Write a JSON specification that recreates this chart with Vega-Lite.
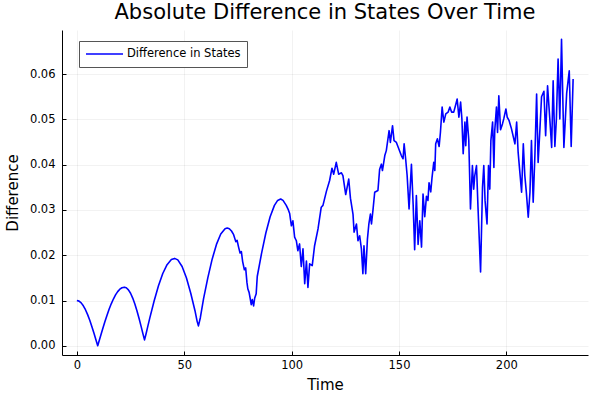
{
  "$schema": "https://vega.github.io/schema/vega-lite/v6.json",
  "width": 526,
  "height": 325,
  "autosize": "none",
  "padding": {"left": 62, "top": 30, "right": 12, "bottom": 45},
  "background": "white",
  "title": {"text": "Absolute Difference in States Over Time", "font": "DejaVu Sans", "fontSize": 21, "fontWeight": "normal", "color": "black", "anchor": "middle", "baseline": "alphabetic", "frame": "group", "offset": -10},
  "config": {"view": {"stroke": null}, "font": "DejaVu Sans"},
  "data": {"values": [
    {"t":0,"v":0.0100},{"t":1,"v":0.00987},{"t":2,"v":0.00948},{"t":3,"v":0.00884},{"t":4,"v":0.00797},{"t":5,"v":0.00689},{"t":6,"v":0.00564},{"t":7,"v":0.00423},{"t":8,"v":0.00271},{"t":9,"v":0.00113},{"t":9.7,"v":0.0},
    {"t":11,"v":0.00212},{"t":12,"v":0.00372},{"t":13,"v":0.00526},{"t":14,"v":0.00671},{"t":15,"v":0.00806},{"t":16,"v":0.00927},{"t":17,"v":0.01033},{"t":18,"v":0.01124},{"t":19,"v":0.01196},{"t":20,"v":0.0125},{"t":21,"v":0.01282},{"t":22.1,"v":0.01295},
    {"t":23,"v":0.01282},{"t":24,"v":0.01236},{"t":25,"v":0.0116},{"t":26,"v":0.01054},{"t":27,"v":0.00923},{"t":28,"v":0.00769},{"t":29,"v":0.00597},{"t":30,"v":0.00412},{"t":30.8,"v":0.00257},{"t":31.5,"v":0.0013},{"t":32.2,"v":0.00262},
    {"t":33,"v":0.00423},{"t":34,"v":0.00621},{"t":36,"v":0.00996},{"t":38,"v":0.01326},{"t":40,"v":0.01597},{"t":42,"v":0.01792},{"t":44,"v":0.01905},{"t":45.5,"v":0.0193},
    {"t":47,"v":0.01897},{"t":49,"v":0.01751},{"t":51,"v":0.01501},{"t":53,"v":0.01167},{"t":55,"v":0.00775},{"t":56,"v":0.0054},{"t":56.6,"v":0.0044},
    {"t":57.5,"v":0.0062},{"t":59,"v":0.0104},{"t":61,"v":0.01506},{"t":63,"v":0.01913},{"t":65,"v":0.02239},{"t":67,"v":0.02468},{"t":69,"v":0.02585},{"t":70,"v":0.026},
    {"t":71,"v":0.02584},{"t":72,"v":0.02535},{"t":73,"v":0.02454},{"t":74,"v":0.023},{"t":74.6,"v":0.0233},{"t":75.3,"v":0.0218},{"t":76,"v":0.0205},{"t":76.6,"v":0.0208},{"t":77.2,"v":0.0186},{"t":78,"v":0.0168},{"t":78.6,"v":0.0172},{"t":79.2,"v":0.014},{"t":79.6,"v":0.0126},{"t":80.2,"v":0.0118},{"t":80.7,"v":0.0105},{"t":81.2,"v":0.0091},{"t":81.7,"v":0.0102},{"t":82.3,"v":0.0088},{"t":82.8,"v":0.0105},{"t":83.5,"v":0.0115},
    {"t":84,"v":0.0153},{"t":86,"v":0.0204},{"t":88,"v":0.0249},{"t":90,"v":0.0285},{"t":92,"v":0.031},{"t":93.5,"v":0.0321},{"t":94.9,"v":0.0324},
    {"t":96,"v":0.0321},{"t":97.5,"v":0.031},{"t":98.5,"v":0.03},{"t":99.1,"v":0.0292},{"t":99.9,"v":0.0265},{"t":100.6,"v":0.0276},{"t":101.4,"v":0.024},{"t":102.2,"v":0.0232},{"t":102.9,"v":0.021},{"t":103.7,"v":0.0225},{"t":104.5,"v":0.0175},{"t":105.3,"v":0.0214},{"t":106.1,"v":0.0137},{"t":106.9,"v":0.0187},{"t":107.6,"v":0.0129},{"t":108.4,"v":0.0181},{"t":109.6,"v":0.0177},
    {"t":110.7,"v":0.0221},{"t":112.3,"v":0.0258},{"t":113.8,"v":0.0306},{"t":114.6,"v":0.031},{"t":116.2,"v":0.0341},{"t":117.7,"v":0.0365},{"t":118.8,"v":0.0392},{"t":119.6,"v":0.0379},{"t":120.8,"v":0.0405},{"t":121.9,"v":0.0379},{"t":123.2,"v":0.0382},{"t":123.9,"v":0.0376},{"t":125.2,"v":0.0334},{"t":126.6,"v":0.0368},{"t":127.4,"v":0.0326},{"t":128.6,"v":0.029},{"t":129.1,"v":0.0251},{"t":130.2,"v":0.0269},{"t":130.9,"v":0.0232},{"t":131.7,"v":0.0243},{"t":132.5,"v":0.0214},{"t":133.2,"v":0.0159},{"t":133.7,"v":0.0221},{"t":134.5,"v":0.0159},{"t":135.3,"v":0.0235},{"t":136,"v":0.027},{"t":136.7,"v":0.0291},{"t":137.2,"v":0.0269},{"t":137.9,"v":0.03},{"t":138.7,"v":0.0339},{"t":140.2,"v":0.0343},{"t":141,"v":0.039},{"t":141.8,"v":0.0401},{"t":142.3,"v":0.0387},{"t":143.4,"v":0.042},{"t":144.1,"v":0.0431},{"t":145.4,"v":0.0475},{"t":146,"v":0.0449},{"t":147,"v":0.0486},{"t":147.7,"v":0.0453},{"t":148.8,"v":0.0449},
    {"t":150.3,"v":0.043},{"t":151.1,"v":0.042},{"t":151.9,"v":0.0413},{"t":152.4,"v":0.0446},{"t":153.1,"v":0.0413},{"t":153.8,"v":0.0376},{"t":154.7,"v":0.0302},{"t":155.8,"v":0.0401},{"t":156.6,"v":0.0312},{"t":157.3,"v":0.0212},{"t":158.1,"v":0.0332},{"t":158.9,"v":0.0224},{"t":159.7,"v":0.0276},{"t":160.5,"v":0.0218},{"t":161.2,"v":0.0335},{"t":162,"v":0.0285},{"t":162.8,"v":0.033},{"t":163.5,"v":0.0321},{"t":164,"v":0.036},{"t":164.8,"v":0.034},{"t":165.4,"v":0.0372},{"t":166.2,"v":0.0405},{"t":166.7,"v":0.0387},{"t":167.1,"v":0.0446},{"t":167.9,"v":0.0457},{"t":168.7,"v":0.044},{"t":169.3,"v":0.0471},{"t":170.1,"v":0.0527},{"t":170.9,"v":0.0494},{"t":171.8,"v":0.0512},{"t":172.9,"v":0.0516},{"t":173.7,"v":0.0527},{"t":174.5,"v":0.0516},{"t":175.5,"v":0.0516},{"t":176.3,"v":0.053},{"t":177.1,"v":0.0545},{"t":177.9,"v":0.0505},{"t":178.7,"v":0.0538},{"t":179.3,"v":0.0501},{"t":179.9,"v":0.0424},{"t":180.7,"v":0.0494},{"t":181.1,"v":0.0442},{"t":181.7,"v":0.0505},{"t":182.5,"v":0.0455},{"t":183.3,"v":0.0302},{"t":184.2,"v":0.0398},{"t":184.8,"v":0.0346},{"t":185.3,"v":0.0376},{"t":186.1,"v":0.0398},{"t":186.8,"v":0.0306},{"t":188,"v":0.0163},{"t":188.9,"v":0.035},{"t":189.5,"v":0.0398},{"t":190.1,"v":0.032},{"t":191,"v":0.0269},{"t":191.7,"v":0.0398},{"t":192.3,"v":0.0346},{"t":192.8,"v":0.0453},{"t":193.6,"v":0.0494},{"t":194.2,"v":0.0394},{"t":194.6,"v":0.0475},{"t":195.4,"v":0.0527},{"t":195.9,"v":0.0471},{"t":196.5,"v":0.0552},{"t":197.3,"v":0.0477},{"t":198.2,"v":0.049},{"t":198.8,"v":0.0501},{"t":199.8,"v":0.0523},{"t":200.4,"v":0.0505},{"t":201.3,"v":0.0497},{"t":202.4,"v":0.0479},{"t":204,"v":0.0446},{"t":204.8,"v":0.0494},{"t":205.5,"v":0.0427},{"t":206.3,"v":0.0383},{"t":207.1,"v":0.0339},{"t":207.9,"v":0.0446},{"t":208.6,"v":0.0376},{"t":209.3,"v":0.034},{"t":210.2,"v":0.0284},{"t":211,"v":0.0339},{"t":211.7,"v":0.0453},{"t":212.5,"v":0.0317},{"t":213.3,"v":0.042},{"t":214.1,"v":0.0556},{"t":214.8,"v":0.0405},{"t":215.6,"v":0.0475},{"t":216.4,"v":0.055},{"t":217.5,"v":0.0562},{"t":218.3,"v":0.0464},{"t":219.2,"v":0.0574},{"t":220.3,"v":0.0497},{"t":221.1,"v":0.0438},{"t":221.8,"v":0.0585},{"t":222.6,"v":0.044},{"t":223.3,"v":0.05},{"t":224.1,"v":0.0633},{"t":224.9,"v":0.0501},{"t":225.7,"v":0.0677},{"t":226.8,"v":0.0438},{"t":228.1,"v":0.0558},{"t":229.3,"v":0.0607},{"t":230.2,"v":0.044},{"t":231.1,"v":0.0589}
  ]},
  "mark": {"type": "line", "strokeWidth": 1.6, "strokeJoin": "round"},
  "encoding": {
    "x": {"field": "t", "type": "quantitative", "title": "Time",
      "scale": {"domain": [-6.93, 238.03], "nice": false, "zero": false},
      "axis": {"values": [0, 50, 100, 150, 200], "format": "d", "domainColor": "black", "domainWidth": 1, "tickColor": "black", "tickSize": {"expr": "-4"}, "labelPadding": 8, "labelFont": "DejaVu Sans", "labelFontSize": 11.5, "labelColor": "black", "titleFont": "DejaVu Sans", "titleFontSize": 15, "titleFontWeight": "normal", "titleColor": "black", "titlePadding": 7, "gridColor": "black", "gridOpacity": 0.1, "gridWidth": 0.5}},
    "y": {"field": "v", "type": "quantitative", "title": "Difference",
      "scale": {"domain": [-0.00203, 0.06973], "nice": false, "zero": false},
      "axis": {"values": [0, 0.01, 0.02, 0.03, 0.04, 0.05, 0.06], "format": ".2f", "domainColor": "black", "domainWidth": 1, "tickColor": "black", "tickSize": {"expr": "-4"}, "labelPadding": 11, "labelFont": "DejaVu Sans", "labelFontSize": 11.5, "labelColor": "black", "titleFont": "DejaVu Sans", "titleFontSize": 15, "titleFontWeight": "normal", "titleColor": "black", "titlePadding": 9, "gridColor": "black", "gridOpacity": 0.1, "gridWidth": 0.5}},
    "color": {"datum": "Difference in States", "type": "nominal",
      "scale": {"range": ["#0000ff"]},
      "legend": {"title": null, "orient": "none", "legendX": 17, "legendY": 11, "symbolType": "stroke", "symbolSize": 1369, "symbolStrokeWidth": 1.6, "clipHeight": 14, "labelOffset": 3, "labelFont": "DejaVu Sans", "labelFontSize": 11.5, "labelColor": "black", "strokeColor": "#555555", "padding": 6, "fillColor": "white"}}
  }
}
